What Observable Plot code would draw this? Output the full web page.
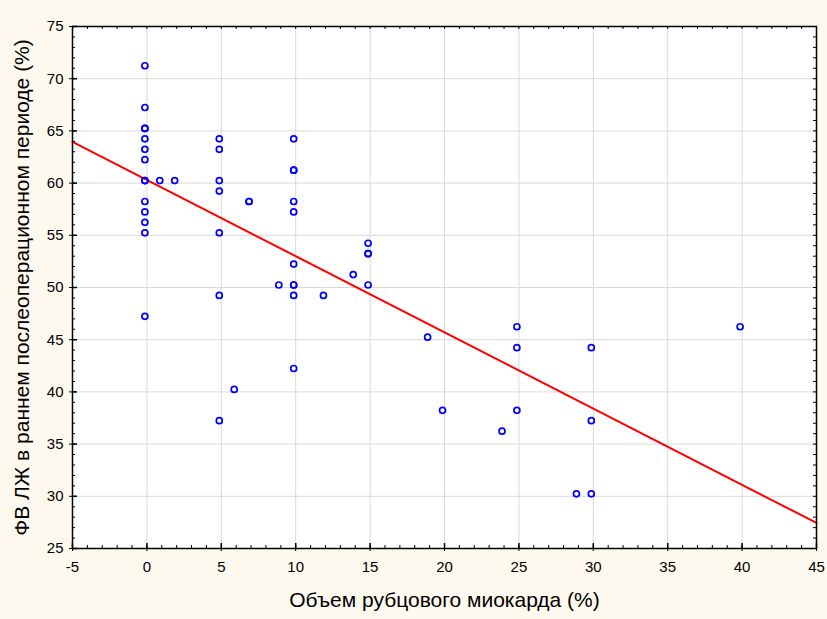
<!DOCTYPE html>
<html><head><meta charset="utf-8">
<script src="https://cdn.jsdelivr.net/npm/d3@7"></script>
<script src="https://cdn.jsdelivr.net/npm/@observablehq/plot@0.6"></script>
<style>html,body{margin:0;padding:0;background:#fef9ee;}</style>
</head><body><div id="chart"></div>
<script>
const scarVolume = [0,0,0,0,0,0,0,0,0,0,0,0,0,0, 1,2, 5,5,5,5,5,5,5, 6,7,7,9, 10,10,10,10,10,10,10,10,10,10, 12,14,15,15,15,15, 19,20,24,25,25,25,29,30,30,30,40];
const ejectionFraction = [71,67,65,65,64,63,62,60,60,58,57,56,55,47, 60,60, 64,63,60,59,55,49,37, 40,58,58,50, 64,61,61,58,57,52,50,50,49,42, 49,51,54,53,53,50, 45,38,36,46,44,38,30,44,37,30,46];
const xTicks = [-5,0,5,10,15,20,25,30,35,40,45];
const yTicks = [25,30,35,40,45,50,55,60,65,70,75];
const fitIntercept = 60.3;
const fitSlope = -0.73;
const xTitle = "Объем рубцового миокарда (%)";
const yTitle = "ФВ ЛЖ в раннем послеоперационном периоде (%)";

const points = scarVolume.map((x, i) => ({x, y: ejectionFraction[i]}));
const xDomain = [xTicks[0], xTicks[xTicks.length - 1]];
const yDomain = [yTicks[0], yTicks[yTicks.length - 1]];
const fitLine = xDomain.map(x => ({x, y: fitIntercept + fitSlope * x}));
const xMinor = d3.range(xDomain[0], xDomain[1] + 1, 1);
const yMinor = d3.range(yDomain[0], yDomain[1] + 1, 1);

const W = 827, H = 619, mL = 72, mR = 11, mT = 26, mB = 71;
const fw = W - mL - mR, fh = H - mT - mB;
const fmt = d => String(d);

const chart = Plot.plot({
  width: W, height: H,
  marginLeft: mL, marginRight: mR, marginTop: mT, marginBottom: mB,
  style: {background: "#fef9ee", fontFamily: "'Liberation Sans', Arial, sans-serif", fontSize: "15px", color: "#000"},
  x: {domain: xDomain},
  y: {domain: yDomain},
  marks: [
    Plot.frame({fill: "white", stroke: null}),
    Plot.gridX(xTicks, {stroke: "#d9d9d9", strokeOpacity: 1}),
    Plot.gridY(yTicks, {stroke: "#d9d9d9", strokeOpacity: 1}),
    Plot.line(fitLine, {x: "x", y: "y", stroke: "#ff0000", strokeWidth: 2}),
    Plot.dot(points, {x: "x", y: "y", r: 3, stroke: "#0000ff", strokeWidth: 1.7, fill: "none", dx: -2, dy: -2.5}),
    Plot.tickX(xMinor, {x: d => d, insetTop: fh - 3, stroke: "#000"}),
    Plot.tickX(xMinor, {x: d => d, insetBottom: fh - 3, stroke: "#000"}),
    Plot.tickY(yMinor, {y: d => d, insetRight: fw - 3, stroke: "#000"}),
    Plot.tickY(yMinor, {y: d => d, insetLeft: fw - 3, stroke: "#000"}),
    Plot.tickX(xTicks, {x: d => d, insetTop: fh - 5, stroke: "#000", strokeWidth: 1.5}),
    Plot.tickY(yTicks, {y: d => d, insetRight: fw - 5, stroke: "#000", strokeWidth: 1.5}),
    Plot.axisX(xTicks, {tickSize: 3, tickPadding: 10, label: null, tickFormat: fmt, fontSize: 15}),
    Plot.axisY(yTicks, {tickSize: 3, tickPadding: 6, label: null, tickFormat: fmt, fontSize: 15}),
    Plot.frame({stroke: "#000", strokeWidth: 1.5}),
    Plot.text([xTitle], {text: d => d, frameAnchor: "bottom", dy: 58, fontSize: 21, textAnchor: "middle"}),
    Plot.text([yTitle], {text: d => d, frameAnchor: "left", rotate: -90, dx: -50, fontSize: 21, textAnchor: "middle"})
  ]
});
document.getElementById("chart").appendChild(chart);
</script>
</body></html>
